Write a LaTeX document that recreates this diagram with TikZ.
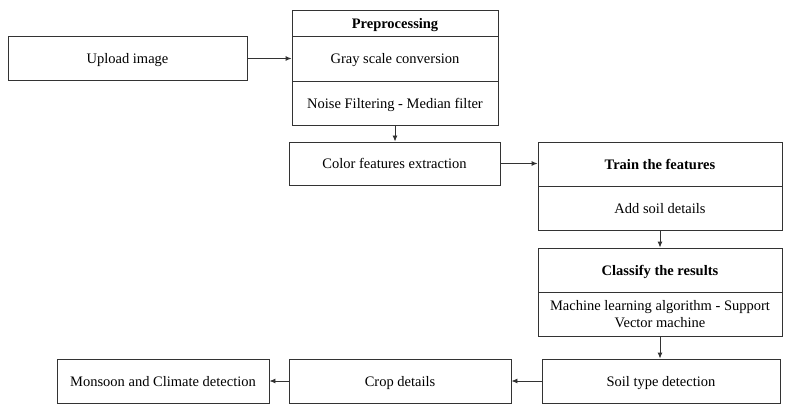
\documentclass[tikz,border=0pt]{standalone}
\usepackage{fontspec}
\setmainfont{Liberation Serif}
\usetikzlibrary{arrows.meta}
\begin{document}
\begin{tikzpicture}[x=1pt,y=-1pt,
  basebox/.style={draw=black!80,line width=0.9pt,inner sep=0pt,align=center,
    font=\fontsize{14.5}{17}\selectfont,fill=white},
  box/.style={basebox,text height=11.5pt,text depth=0.5pt},
  hdr/.style={box,font=\fontsize{14.5}{17}\selectfont\bfseries},
  arr/.style={draw=black!80,line width=0.9pt,-{Latex[length=6pt,width=5pt]}}]
\useasboundingbox (0,0) rectangle (787,406);
\node[box,minimum width=239,minimum height=44] (upload) at (127.5,58.5) {Upload image};
\node[hdr,minimum width=206,minimum height=26] (pre) at (395,23) {Preprocessing};
\node[box,minimum width=206,minimum height=45] (gray) at (395,58.5) {Gray scale conversion};
\node[box,minimum width=206,minimum height=44] (noise) at (395,103) {Noise Filtering - Median filter};
\node[box,minimum width=211,minimum height=43] (color) at (394.5,163.5) {Color features extraction};
\node[hdr,minimum width=244,minimum height=44] (train) at (660,164) {Train the features};
\node[box,minimum width=244,minimum height=44] (soildet) at (660,208) {Add soil details};
\node[hdr,minimum width=244,minimum height=44] (classify) at (660,270) {Classify the results};
\node[basebox,minimum width=244,minimum height=44] (ml) at (660,314) {Machine learning algorithm - Support\\Vector machine};
\node[box,minimum width=238,minimum height=44] (soiltype) at (661,381) {Soil type detection};
\node[box,minimum width=222,minimum height=44] (crop) at (400,381) {Crop details};
\node[box,minimum width=212,minimum height=44] (monsoon) at (163,381) {Monsoon and Climate detection};
\draw[arr] (upload.east) -- (upload.east -| gray.west);
\draw[arr] (noise.south) -- (noise.south |- color.north);
\draw[arr] (color.east) -- (color.east -| train.west);
\draw[arr] (soildet.south) -- (classify.north);
\draw[arr] (ml.south) -- (ml.south |- soiltype.north);
\draw[arr] (soiltype.west) -- (crop.east);
\draw[arr] (crop.west) -- (monsoon.east);
\end{tikzpicture}
\end{document}
